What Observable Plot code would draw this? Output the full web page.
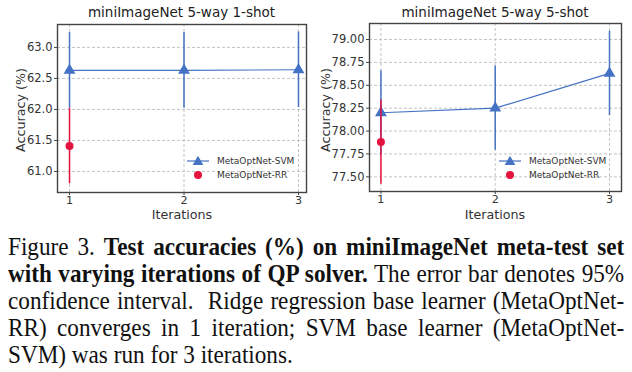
<!DOCTYPE html>
<html><head><meta charset="utf-8">
<script src="https://cdn.jsdelivr.net/npm/d3@7"></script>
<script src="https://cdn.jsdelivr.net/npm/@observablehq/plot@0.6"></script>
<style>
body{margin:0;background:#fff;width:632px;height:372px;overflow:hidden;position:relative;font-family:"DejaVu Sans",sans-serif}
.panel{position:absolute;top:0;width:316px;height:228px}
.title{position:absolute;top:4px;font-size:13.5px;line-height:17px;color:#222;white-space:nowrap;transform:translateX(-50%)}
.xlab{position:absolute;font-size:12.7px;line-height:12px;color:#333;white-space:nowrap;transform:translate(-50%,-50%)}
.ylab{position:absolute;font-size:12.7px;line-height:13px;color:#333;white-space:nowrap;transform:translate(-50%,-50%) rotate(-90deg)}
.legend{position:absolute;font-size:9px;color:#333;line-height:14px}
.legend .row{display:flex;align-items:center;height:14px;white-space:nowrap}
.legend svg{display:block;margin-right:8px}
#caption{position:absolute;left:8px;top:233px;width:664px;transform-origin:0 0;transform:scaleX(0.928);font-family:"Liberation Serif","Times New Roman",serif;font-size:25px;line-height:27px;color:#111}
#caption .ln{white-space:nowrap;text-align:justify;text-align-last:justify}
#caption .ln.last{text-align-last:left}
</style>
</head><body>
<div id="p0" class="panel" style="left:0"></div>
<div id="p1" class="panel" style="left:316px"></div>
<div id="caption"></div>
<script>
// ---- data ----
const iterations = [1, 2, 3];
const svm1Acc = [62.63, 62.63, 62.64];
const svm1CI  = [0.61, 0.61, 0.61];
const rr1Acc  = [61.41];
const rr1CI   = [0.61];
const svm5Acc = [78.20, 78.25, 78.63];
const svm5CI  = [0.46, 0.46, 0.46];
const rr5Acc  = [77.88];
const rr5CI   = [0.46];
const yTicks1 = [61.0, 61.5, 62.0, 62.5, 63.0];
const yTicks5 = [77.50, 77.75, 78.00, 78.25, 78.50, 78.75, 79.00];
const titles = ["miniImageNet 5-way 1-shot", "miniImageNet 5-way 5-shot"];
const seriesNames = ["MetaOptNet-SVM", "MetaOptNet-RR"];
const xLabel = "Iterations";
const yLabel = "Accuracy (%)";
const captionLines = [
  'Figure 3. <b>Test accuracies (%) on miniImageNet meta-test set</b>',
  '<b>with varying iterations of QP solver.</b> The error bar denotes 95%',
  'confidence interval.&nbsp; Ridge regression base learner (MetaOptNet-',
  'RR) converges in 1 iteration; SVM base learner (MetaOptNet-',
  'SVM) was run for 3 iterations.'
];

const BLUE = "#4472c4", RED = "#e3123f", FRAME = "#444";

function chart(cfg) {
  const svm = iterations.map((x, i) => ({x, y: cfg.svmAcc[i], lo: cfg.svmAcc[i] - cfg.svmCI[i], hi: cfg.svmAcc[i] + cfg.svmCI[i]}));
  const rr = cfg.rrAcc.map((y, i) => ({x: iterations[i], y, lo: y - cfg.rrCI[i], hi: y + cfg.rrCI[i]}));
  return Plot.plot({
    width: 316, height: 228,
    marginLeft: cfg.ml, marginRight: cfg.mr, marginTop: cfg.mt, marginBottom: cfg.mb,
    style: {fontFamily: "DejaVu Sans", fontSize: "11px", color: "#333", background: "transparent", overflow: "visible"},
    x: {domain: cfg.xDomain},
    y: {domain: cfg.yDomain},
    marks: [
      Plot.gridX(iterations, {stroke: "#bdbdbd", strokeOpacity: 1, strokeDasharray: "3,2", strokeWidth: 0.9}),
      Plot.gridY(cfg.yTicks, {stroke: "#bdbdbd", strokeOpacity: 1, strokeDasharray: "3,2", strokeWidth: 0.9}),
      Plot.axisX(iterations, {tickSize: 3, tickPadding: 1, stroke: FRAME, tickFormat: d => String(d), fontSize: 11.2, label: null}),
      Plot.axisY(cfg.yTicks, {tickSize: 3, tickPadding: 2, stroke: FRAME, tickFormat: cfg.yFmt, fontSize: 11.5, label: null}),
      Plot.ruleX(svm, {x: "x", y1: "lo", y2: "hi", stroke: BLUE, strokeWidth: 1.5}),
      Plot.line(svm, {x: "x", y: "y", stroke: BLUE, strokeWidth: 1.2}),
      Plot.dot(svm, {x: "x", y: "y", symbol: "triangle", r: 4.4, fill: BLUE, stroke: null}),
      Plot.ruleX(rr, {x: "x", y1: "lo", y2: "hi", stroke: RED, strokeWidth: 1.5}),
      Plot.dot(rr, {x: "x", y: "y", r: 4, fill: RED, stroke: null}),
      Plot.frame({stroke: FRAME, strokeWidth: 1.4})
    ]
  });
}

function legend(left, top) {
  const div = document.createElement("div");
  div.className = "legend";
  div.style.left = left + "px";
  div.style.top = top + "px";
  const sym = [
    `<svg width="22" height="14"><line x1="0" x2="22" y1="7" y2="7" stroke="${BLUE}" stroke-width="1.2"/><path d="M11,1.8L16.3,11L5.7,11Z" fill="${BLUE}"/></svg>`,
    `<svg width="22" height="14"><circle cx="11" cy="7" r="4" fill="${RED}"/></svg>`
  ];
  div.innerHTML = seriesNames.map((n, i) => `<div class="row">${sym[i]}<span>${n}</span></div>`).join("");
  return div;
}

function addDiv(parent, cls, text, left, top) {
  const d = document.createElement("div");
  d.className = cls;
  d.style.left = left + "px";
  d.style.top = top + "px";
  d.textContent = text;
  parent.appendChild(d);
}

const cfgs = [
  {svmAcc: svm1Acc, svmCI: svm1CI, rrAcc: rr1Acc, rrCI: rr1CI, yTicks: yTicks1, yFmt: d => d.toFixed(1),
   xDomain: [0.895, 3.07], yDomain: [60.66, 63.37], ml: 57, mr: 10, mt: 24, mb: 36,
   legendX: 187, titleX: 181.5, xlabX: 182, ylabX: 20},
  {svmAcc: svm5Acc, svmCI: svm5CI, rrAcc: rr5Acc, rrCI: rr5CI, yTicks: yTicks5, yFmt: d => d.toFixed(2),
   xDomain: [0.9, 3.105], yDomain: [77.34, 79.175], ml: 53, mr: 11, mt: 23, mb: 37,
   legendX: 183, titleX: 179, xlabX: 179, ylabX: 8.5}
];

cfgs.forEach((cfg, i) => {
  const p = document.getElementById("p" + i);
  p.appendChild(chart(cfg));
  addDiv(p, "title", titles[i], cfg.titleX, 4);
  addDiv(p, "xlab", xLabel, cfg.xlabX, 215);
  addDiv(p, "ylab", yLabel, cfg.ylabX, 110);
  p.appendChild(legend(cfg.legendX, 154));
});

document.getElementById("caption").innerHTML =
  captionLines.map((l, i) => `<div class="ln${i === captionLines.length - 1 ? " last" : ""}">${l}</div>`).join("");
</script>
</body></html>
